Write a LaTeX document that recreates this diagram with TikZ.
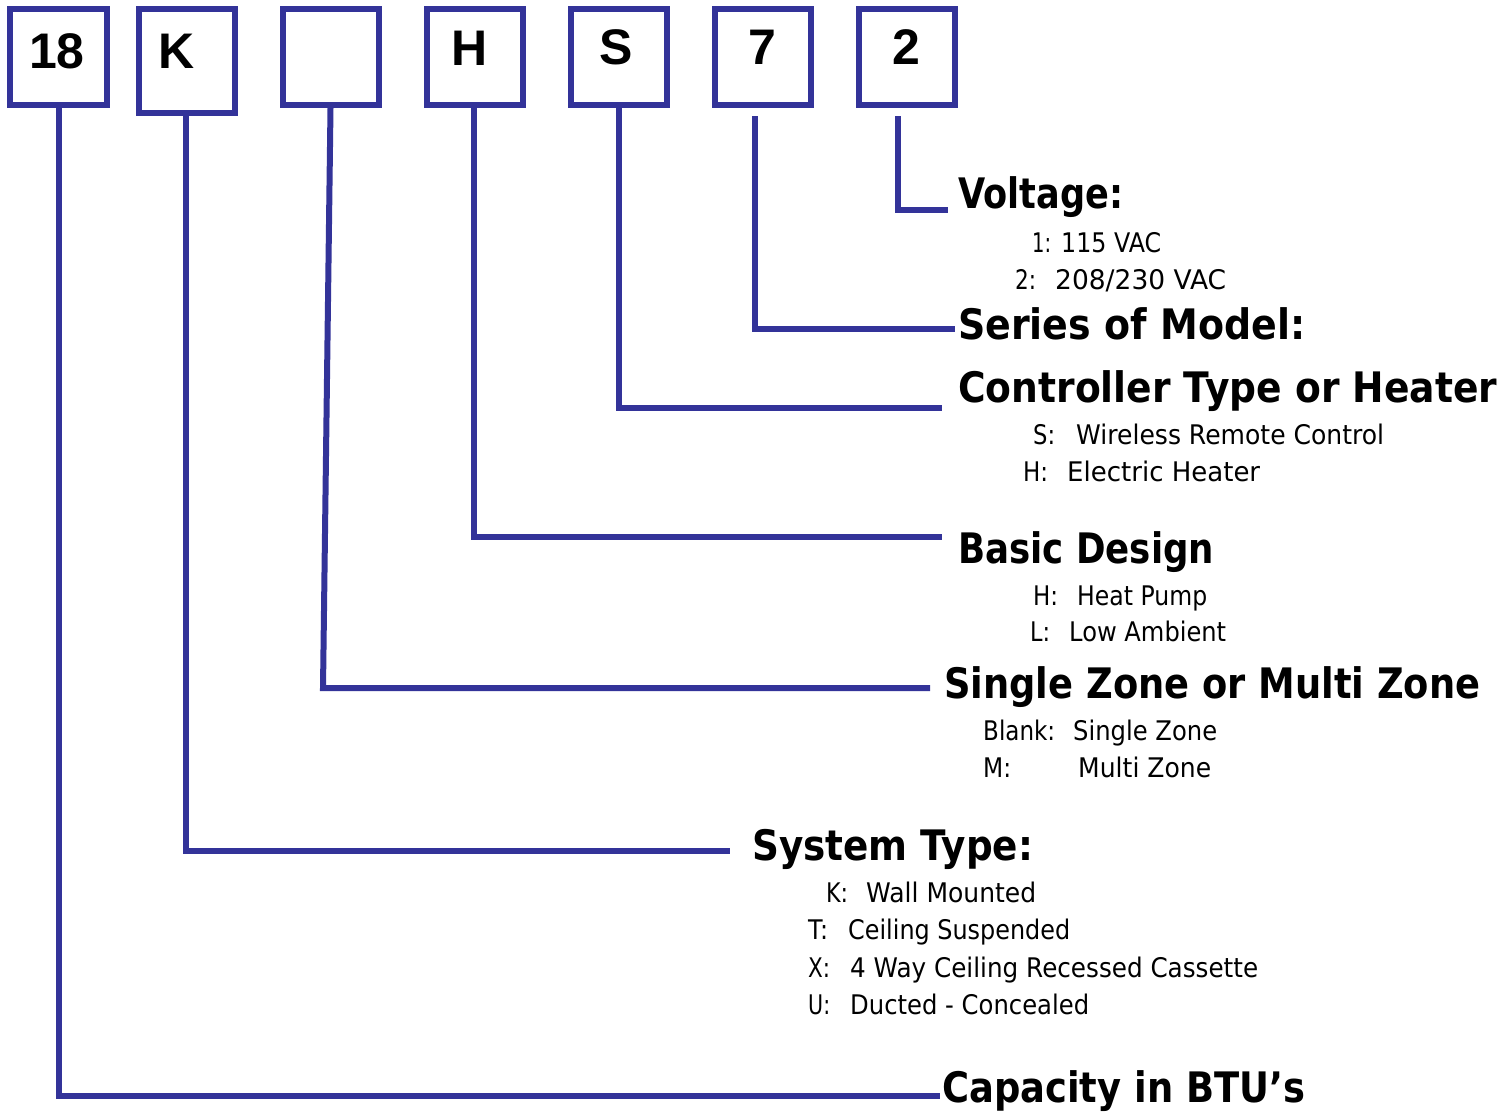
\documentclass[tikz,border=0pt]{standalone}
\usepackage{fontspec}
\usepackage{graphicx}
\setmainfont{DejaVu Sans}
\newfontfamily\codefont{Liberation Sans}

\definecolor{leadblue}{RGB}{51,51,153}

% stretch a piece of text to a given width, keeping its height
\newcommand{\fitw}[2]{\resizebox{#1}{\height}{#2}}
% one option line: code letter and its width, offset of the description,
% description and its width
\newcommand{\opt}[5]{\makebox[#3][l]{\fitw{#2}{#1}}\fitw{#5}{#4}}

\begin{document}
\begin{tikzpicture}[x=1pt,y=-1pt,
  codebox/.style={draw=leadblue, line width=6pt, minimum width=96pt,
    minimum height=96pt, inner sep=0pt},
  codetext/.style={anchor=base, inner sep=0pt,
    font=\codefont\bfseries\fontsize{50}{50}\selectfont},
  lead/.style={draw=leadblue, line width=6pt, line join=miter},
  head/.style={anchor=base west, inner sep=0pt,
    font=\bfseries\fontsize{42}{42}\selectfont},
  sub/.style={anchor=base west, inner sep=0pt,
    font=\fontsize{27}{27}\selectfont}]

\useasboundingbox (0,0) rectangle (1499,1117);

% --- model code boxes ---
\node[codebox, minimum width=97pt] (b18) at (58.5,57) {};
\node[codebox, minimum height=104pt] (bK) at (187,61) {};
\node[codebox] (bZ) at (330.5,57) {};
\node[codebox] (bH) at (475,57) {};
\node[codebox] (bS) at (619,57) {};
\node[codebox] (b7) at (763,57) {};
\node[codebox] (b2) at (907,57) {};

\node[codetext] (c18) at (57,68) {18};
\node[codetext] (cK)  at (177,68) {K};
\node[codetext] (cH)  at (470,65) {H};
\node[codetext] (cS)  at (616,64) {S};
\node[codetext] (c7)  at (762,64) {7};
\node[codetext] (c2)  at (906,64) {2};

% --- line ends beside the headings ---
\coordinate (e2) at (948,210);
\coordinate (e7) at (955,329);
\coordinate (eS) at (942,408);
\coordinate (eH) at (942,537);
\coordinate (kZ) at (323,688);
\coordinate (eZ) at (930,688);
\coordinate (eK) at (730,851);
\coordinate (e18) at (940,1096);

% --- leaders ---
\draw[lead] ([xshift=-9pt,yshift=-8pt]b2.south) |- (e2);
\draw[lead] ([xshift=-8pt,yshift=-8pt]b7.south) |- (e7);
\draw[lead] (bS.south) |- (eS);
\draw[lead] ([xshift=-1pt]bH.south) |- (eH);
\draw[lead] (bZ.south) -- (kZ) -- (eZ);
\draw[lead] ([xshift=-1pt]bK.south) |- (eK);
\draw[lead] (b18.south) |- (e18);

% --- voltage ---
\node[head] (hV) at (958,208) {\fitw{165pt}{Voltage:}};
\node[sub] (v1) at (1032,252) {\opt{1:}{19pt}{29pt}{115 VAC}{100pt}};
\node[sub] (v2) at (1015,289) {\opt{2:}{21pt}{40pt}{208/230 VAC}{171pt}};

% --- series ---
\node[head] (hM) at (958,339) {\fitw{347pt}{Series of Model:}};

% --- controller ---
\node[head] (hS) at (958,402) {\fitw{539pt}{Controller Type or Heater}};
\node[sub] (s1) at (1033,444) {\opt{S:}{22pt}{43pt}{Wireless Remote Control}{308pt}};
\node[sub] (s2) at (1023,481) {\opt{H:}{25pt}{44pt}{Electric Heater}{193pt}};

% --- basic design ---
\node[head] (hD) at (958,563) {\fitw{256pt}{Basic Design}};
\node[sub] (d1) at (1033,605) {\opt{H:}{25pt}{44pt}{Heat Pump}{130pt}};
\node[sub] (d2) at (1030,641) {\opt{L:}{20pt}{39pt}{Low Ambient}{157pt}};

% --- zones ---
\node[head] (hZ) at (944,698) {\fitw{536pt}{Single Zone or Multi Zone}};
\node[sub] (z1) at (983,740) {\opt{Blank:}{72pt}{90pt}{Single Zone}{144pt}};
\node[sub] (z2) at (983,777) {\opt{M:}{28pt}{95pt}{Multi Zone}{133pt}};

% --- system type ---
\node[head] (hK) at (752,860) {\fitw{281pt}{System Type:}};
\node[sub] (k1) at (826,902) {\opt{K:}{22pt}{40pt}{Wall Mounted}{170pt}};
\node[sub] (k2) at (808,939) {\opt{T:}{20pt}{40pt}{Ceiling Suspended}{222pt}};
\node[sub] (k3) at (808,977) {\opt{X:}{22pt}{42pt}{4 Way Ceiling Recessed Cassette}{408pt}};
\node[sub] (k4) at (808,1014) {\opt{U:}{22pt}{42pt}{Ducted - Concealed}{239pt}};

% --- capacity ---
\node[head] (h18) at (942,1102) {\fitw{363pt}{Capacity in BTU’s}};

\end{tikzpicture}
\end{document}
